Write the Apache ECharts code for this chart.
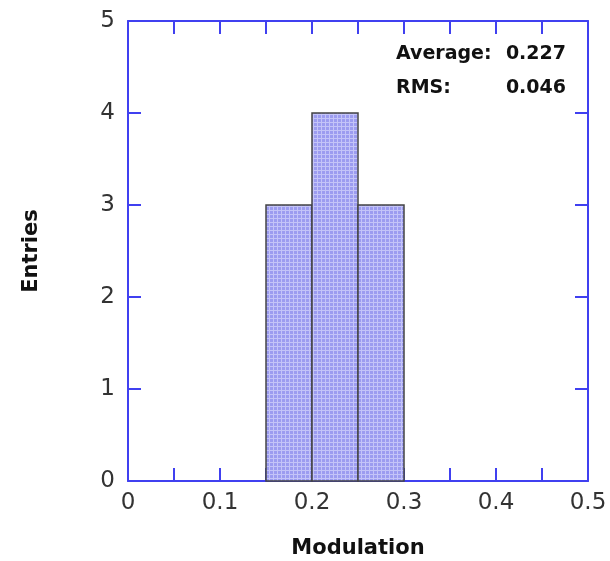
<!DOCTYPE html>
<html>
<head>
<meta charset="utf-8">
<script src="https://cdn.jsdelivr.net/npm/echarts@6/dist/echarts.min.js"></script>
<style>
  html, body { margin: 0; padding: 0; background: #fff; }
  #main { width: 610px; height: 561px; }
</style>
</head>
<body>
<div id="main"></div>
<script>
// histogram bins: lower edge, upper edge, entries
var binLow  = [0.15, 0.20, 0.25];
var binHigh = [0.20, 0.25, 0.30];
var entries = [3, 4, 3];

var statLabels = ["Average:", "RMS:"];
var statValues = ["0.227", "0.046"];

var axisBlue = "#4040f0";
var fontFam = "DejaVu Sans";

// small checked pattern for the bar fill
function makePattern(){
    var c = document.createElement("canvas");
    c.width = 4; c.height = 4;
    var ctx = c.getContext("2d");
    ctx.fillStyle = "#9c9cf0";
    ctx.fillRect(0, 0, 4, 4);
    ctx.fillStyle = "#c4c4f8";
    ctx.fillRect(1, 0, 1, 4);
    ctx.fillRect(0, 2, 4, 1);
    return c;
}

var binData = [];
for (var i = 0; i < entries.length; i++){
    binData.push([binLow[i], binHigh[i], entries[i]]);
}

var chart = echarts.init(document.getElementById("main"), null, {renderer: "canvas"});
var pattern = makePattern();

var option = {
    animation: false,
    grid: {left: 128, right: 22, top: 21, bottom: 80, show: false, containLabel: false, outerBoundsMode: "none"},
    xAxis: [{
        type: "value", min: 0, max: 0.5, interval: 0.05, position: "bottom",
        name: "Modulation", nameLocation: "middle", nameGap: 57,
        nameTextStyle: {fontFamily: fontFam, fontSize: 21, fontWeight: "bold", color: "#111"},
        axisLine: {show: true, onZero: false, lineStyle: {color: axisBlue, width: 2}},
        axisTick: {show: true, inside: true, length: 13, lineStyle: {color: axisBlue, width: 2}},
        axisLabel: {
            fontFamily: fontFam, fontSize: 23, color: "#333", margin: 11,
            formatter: function(v){
                var r = Math.round(v * 100);
                if (r % 10 !== 0) return "";
                return String(r / 100);
            }
        },
        splitLine: {show: false}
    }, {
        type: "value", min: 0, max: 0.5, interval: 0.05, position: "top",
        axisLine: {show: true, onZero: false, lineStyle: {color: axisBlue, width: 2}},
        axisTick: {show: true, inside: true, length: 13, lineStyle: {color: axisBlue, width: 2}},
        axisLabel: {show: false},
        splitLine: {show: false}
    }],
    yAxis: [{
        type: "value", min: 0, max: 5, interval: 1, position: "left",
        name: "Entries", nameLocation: "middle", nameGap: 86, nameRotate: 90,
        nameTextStyle: {fontFamily: fontFam, fontSize: 21, fontWeight: "bold", color: "#111"},
        axisLine: {show: true, onZero: false, lineStyle: {color: axisBlue, width: 2}},
        axisTick: {show: true, inside: true, length: 13, lineStyle: {color: axisBlue, width: 2}},
        axisLabel: {fontFamily: fontFam, fontSize: 23, color: "#333", margin: 13},
        splitLine: {show: false}
    }, {
        type: "value", min: 0, max: 5, interval: 1, position: "right",
        axisLine: {show: true, onZero: false, lineStyle: {color: axisBlue, width: 2}},
        axisTick: {show: true, inside: true, length: 13, lineStyle: {color: axisBlue, width: 2}},
        axisLabel: {show: false},
        splitLine: {show: false}
    }],
    series: [{
        type: "custom",
        xAxisIndex: 0, yAxisIndex: 0,
        data: binData,
        encode: {x: [0, 1], y: 2},
        renderItem: function(params, api){
            var p0 = api.coord([api.value(0), api.value(2)]);
            var p1 = api.coord([api.value(1), 0]);
            return {
                type: "rect",
                shape: {x: p0[0], y: p0[1], width: p1[0] - p0[0], height: p1[1] - p0[1]},
                style: {fill: {image: pattern, repeat: "repeat"}, stroke: "#444", lineWidth: 1.5}
            };
        }
    }],
    graphic: [
        {type: "text", x: 396, y: 54,
         style: {text: statLabels[0], font: "bold 19px " + fontFam, fill: "#111", verticalAlign: "middle"}},
        {type: "text", x: 396, y: 88,
         style: {text: statLabels[1], font: "bold 19px " + fontFam, fill: "#111", verticalAlign: "middle"}},
        {type: "text", x: 566, y: 54,
         style: {text: statValues[0], font: "bold 19px " + fontFam, fill: "#111", align: "right", verticalAlign: "middle"}},
        {type: "text", x: 566, y: 88,
         style: {text: statValues[1], font: "bold 19px " + fontFam, fill: "#111", align: "right", verticalAlign: "middle"}}
    ]
};

chart.setOption(option);
</script>
</body>
</html>
